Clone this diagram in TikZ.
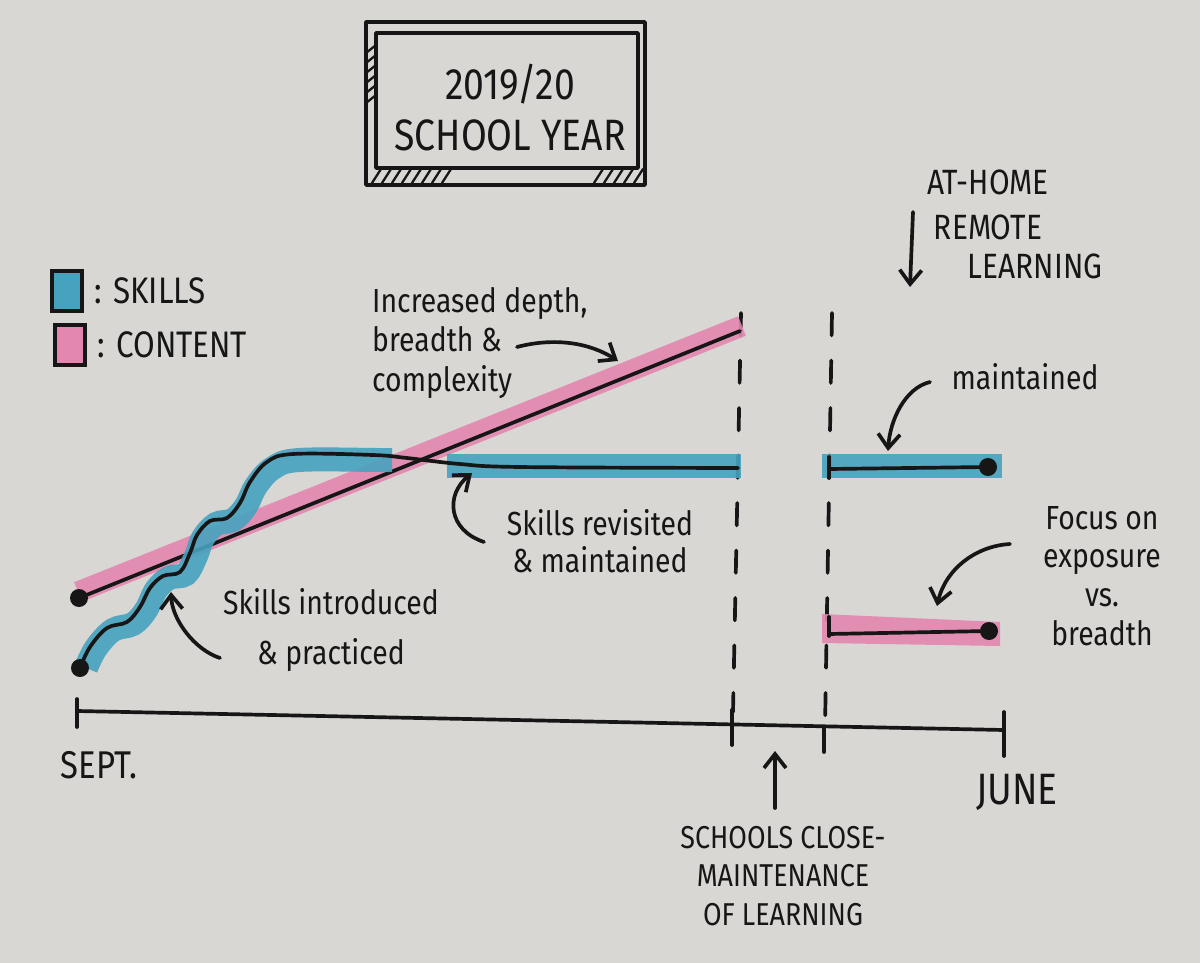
\documentclass[tikz,border=0pt]{standalone}
\usepackage{fontspec}
\setmainfont{Fira Sans}[FakeStretch=0.85]
\usetikzlibrary{positioning,arrows.meta}
\definecolor{paper}{RGB}{216,215,212}
\definecolor{skillblue}{RGB}{70,162,190}
\definecolor{contentpink}{RGB}{228,135,175}
\definecolor{ink}{RGB}{22,22,22}
\tikzset{skillband/.style={draw=skillblue,line width=0.48cm,opacity=0.9},
	 contentband/.style={draw=contentpink,line width=0.42cm,opacity=0.9},
	 inkline/.style={draw=ink,line width=2.1pt,line cap=round,line join=round},
	 inkdot/.style={circle,fill=ink,inner sep=0pt,minimum size=0.36cm},
	 note/.style={text=ink,align=center,font=\fontsize{19}{22}\selectfont},
	 capsnote/.style={text=ink,align=center,font=\fontsize{20}{22}\selectfont},
	 callout/.style={inkline,-{Straight Barb[length=2.8mm,width=4.4mm]}},
	 closeline/.style={inkline,dash pattern=on 0.45cm off 0.5cm},
	 keybox/.style={draw=ink,line width=1.8pt,inner sep=0pt,minimum width=0.6cm,minimum height=0.8cm}
	 }
\begin{document}
\begin{tikzpicture}[x=0.02cm,y=-0.02cm]
	\fill[paper] (0,0) rectangle (1200,963);
	\useasboundingbox (0,0) rectangle (1200,963);
	% title board
	\draw[inkline] (366,22) rectangle (645,185);
	\draw[inkline] (376,33) rectangle (638,168);
	\foreach \x in {372,382,...,442} \draw[inkline,line width=1.3pt] (\x,183) -- (\x+9,169);
	\foreach \x in {594,604,...,634} \draw[inkline,line width=1.3pt] (\x,183) -- (\x+9,169);
	\foreach \y in {45,55,...,95} \draw[inkline,line width=1.3pt] (366,\y+8) -- (376,\y);
	\node[note,font=\fontsize{25}{29}\selectfont] (title) at (510,108) {2019/20\\SCHOOL YEAR};
	% key
	\node[keybox,fill=skillblue] (skillkey) at (67,291) {};
	\node[capsnote,anchor=west,font=\fontsize{21}{24}\selectfont] (skilltxt) [right=0.1cm of skillkey] {: SKILLS};
	\node[keybox,fill=contentpink] (contentkey) at (70,345) {};
	\node[capsnote,anchor=west,font=\fontsize{21}{24}\selectfont] (contenttxt) [right=0.1cm of contentkey] {: CONTENT};
	% time axis
	\coordinate (sept) at (77,711);
	\coordinate (june) at (1004,730);
	\draw[inkline] (sept) -- (june);
	\draw[inkline] (77,699) -- (77,727);
	\draw[inkline] (1004,712) -- (1004,756);
	\node[capsnote,font=\fontsize{22}{24}\selectfont] (septtxt) at (99,765) {SEPT.};
	\node[capsnote,font=\fontsize{25}{28}\selectfont] (junetxt) at (1017,792) {JUNE};
	% closure
	\coordinate (closeA) at (741,313); \coordinate (closeB) at (733,712);
	\draw[closeline] (closeA) -- (closeB);
	\draw[inkline] (732,710) -- (732,745);
	\coordinate (remoteA) at (832,313); \coordinate (remoteB) at (825,728);
	\draw[closeline] (remoteA) -- (remoteB);
	\draw[inkline] (824,728) -- (824,752);
	% content
	\draw[contentband] (78,592) -- (742,326);
	\node[inkdot] (c0) at (79,598) {};
	\coordinate (c1) at (740,331);
	\draw[inkline] (c0.center) -- (c1);
	% skills
	\draw[skillband] plot[smooth,tension=0.6] coordinates {(86,668) (96,648) (113,630) (133,624) (146,610) (156,590) (169,578) (186,574) (196,556) (203,538) (216,524) (233,520) (246,506) (256,486) (273,468) (299,460) (379,460) (392,460)};
	\draw[skillband] (447,466) -- (741,466);
	\node[inkdot] (s0) at (80,668) {};
	\coordinate (s1) at (738,468);
	\draw[inkline] plot[smooth,tension=0.6] coordinates {(80,668) (90,647) (107,628) (127,622) (140,607) (150,588) (163,576) (180,572) (190,553) (197,535) (210,521) (227,518) (240,503) (250,482) (267,462) (293,454) (373,455) (407,458) (460,464) (520,467) (738,468)};
	% at home
	\draw[skillband] (822,466) -- (1002,466);
	\node[inkdot] (s3) at (988,467) {};
	\coordinate (s2) at (829,469);
	\draw[inkline] (s2) -- (s3.center);
	\draw[inkline] (829,457) -- (829,478);
	\fill[contentpink,opacity=0.9] (822,614) -- (1000,622) -- (1000,646) -- (822,643) -- cycle;
	\node[inkdot] (c3) at (989,631) {};
	\coordinate (c2) at (829,634);
	\draw[inkline] (c2) -- (c3.center);
	\draw[inkline] (829,617) -- (829,636);
	% notes
	\node[note,align=left,anchor=west,font=\fontsize{19}{22.5}\selectfont] (depthtxt) at (366,343) {Increased depth,\\breadth \&\\complexity};
	\coordinate (depthtail) at (517,347); \coordinate (depthtip) at (618,361);
	\draw[callout] (depthtail) .. controls (555,337) and (590,343) .. (depthtip);
	\node[note,font=\fontsize{19}{21}\selectfont] (revisittxt) at (600,541) {Skills revisited\\\& maintained};
	\coordinate (revisittail) at (484,542); \coordinate (revisittip) at (472,473);
	\draw[callout] (revisittail) .. controls (448,530) and (445,495) .. (revisittip);
	\node[note,font=\fontsize{19}{28}\selectfont] (introtxt) at (331,630) {Skills introduced\\\& practiced};
	\coordinate (introtail) at (220,658); \coordinate (introtip) at (171,592);
	\draw[callout] (introtail) .. controls (195,650) and (172,620) .. (introtip);
	\node[note] (maintxt) at (1025,377) {maintained};
	\coordinate (maintail) at (930,382); \coordinate (maintip) at (888,451);
	\draw[callout] (maintail) .. controls (905,388) and (890,420) .. (maintip);
	\node[note] (focustxt) at (1102,576) {Focus on\\exposure\\vs.\\breadth};
	\coordinate (focustail) at (1010,544); \coordinate (focustip) at (937,606);
	\draw[callout] (focustail) .. controls (975,546) and (945,570) .. (focustip);
	\node[capsnote] (athome) at (988,182) {AT-HOME};
	\node[capsnote] (remote) at (988,227) {REMOTE};
	\node[capsnote] (learning) at (1035,266) {LEARNING};
	\coordinate (hometail) at (913,212); \coordinate (hometip) at (910,287);
	\draw[callout] (hometail) -- (hometip);
	\node[capsnote,font=\fontsize{18}{22}\selectfont] (closetxt) at (783,876) {SCHOOLS CLOSE-\\MAINTENANCE\\OF LEARNING};
	\coordinate (closetail) at (775,808); \coordinate (closetip) at (775,751);
	\draw[callout] (closetail) -- (closetip);
\end{tikzpicture}
\end{document}
